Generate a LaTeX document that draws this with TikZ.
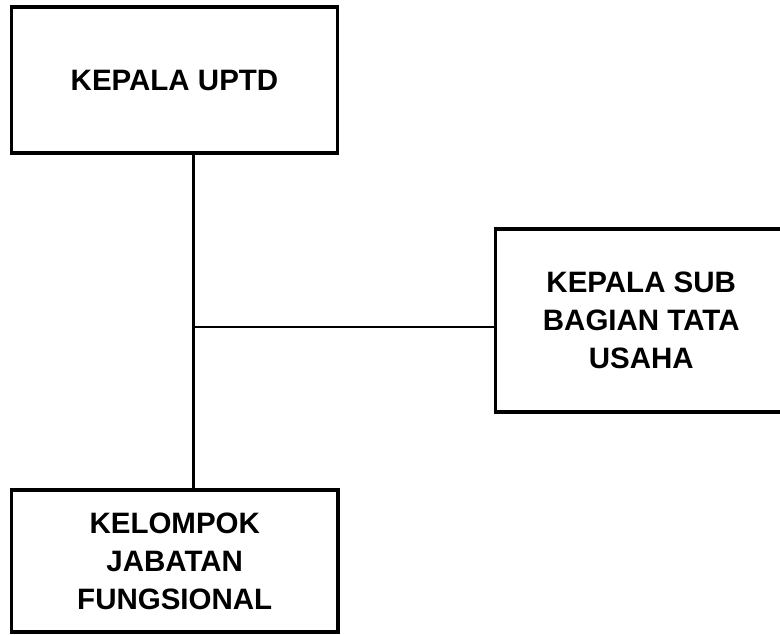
\documentclass[tikz,border=0pt]{standalone}
\usepackage{fontspec}
\setmainfont{Liberation Sans}
\begin{document}
\begin{tikzpicture}[x=1pt,y=-1pt,
  orgbox/.style={draw=black,line width=3.6pt,fill=white,inner sep=0pt,outer sep=0pt,
    align=center,font=\fontsize{29.5}{38}\selectfont\bfseries},
  link/.style={draw=black,line width=2.2pt}]
\useasboundingbox[fill=white] (0,0) rectangle (780,635);
\node[orgbox,minimum width=326pt,minimum height=146pt] (top) at (174.5,80) {KEPALA UPTD};
\node[orgbox,minimum width=291.5pt,minimum height=183pt] (sub) at (641.25,320.5) {KEPALA SUB\\BAGIAN TATA\\USAHA};
\node[orgbox,minimum width=326.5pt,minimum height=142pt] (bot) at (174.75,561) {KELOMPOK\\JABATAN\\FUNGSIONAL};
\coordinate (j) at (193.5,327);
\draw[link] (top.south -| j) -- (bot.north -| j);
\draw[link] (j) -- (sub.west |- j);
\end{tikzpicture}
\end{document}
